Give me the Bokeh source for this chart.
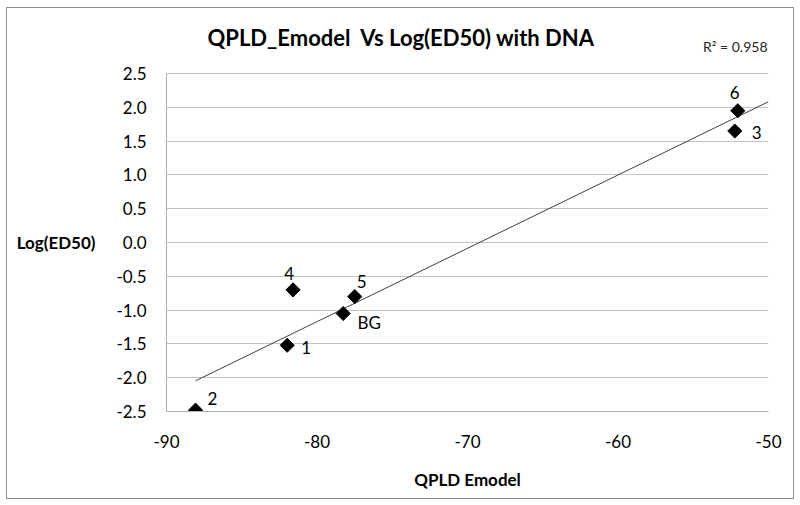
import numpy as np
from bokeh.plotting import figure
from bokeh.models import Label, FixedTicker, NumeralTickFormatter, Range1d, LinearAxis
from bokeh.core.properties import value
from bokeh.embed import file_html
from bokeh.resources import INLINE

# ---- data ----
compounds = ["1", "2", "3", "4", "5", "6", "BG"]
qpld_emodel = [-81.98, -88.07, -52.24, -81.59, -77.49, -52.04, -78.26]
log_ed50 = [-1.52, -2.48, 1.65, -0.70, -0.80, 1.95, -1.05]
x_ticks = [-90, -80, -70, -60, -50]
y_ticks = [-2.5, -2.0, -1.5, -1.0, -0.5, 0.0, 0.5, 1.0, 1.5, 2.0, 2.5]
r2_text = "R\u00b2 = 0.958"
title_text = "QPLD_Emodel\u00a0 Vs Log(ED50) with DNA"
x_title = "QPLD Emodel"
y_title = "Log(ED50)"

# label offsets (screen px) for the point labels
label_dx = [19, 17, 22, -4, 7, -3, 26]
label_dy = [2, -12, 1, -16, -15, -18, 9]

FONT = "Lato"
Y_TOP = 3.3  # frame extends above the plot area to host the title texts

p = figure(
    frame_width=602, frame_height=392,
    min_border_left=159, min_border_right=25,
    min_border_top=11, min_border_bottom=87,
    x_range=Range1d(x_ticks[0], x_ticks[-1]),
    y_range=Range1d(y_ticks[0], Y_TOP),
    output_backend="svg", toolbar_location=None,
    background_fill_color="white", border_fill_color="white",
)
p.outline_line_color = None
p.styles = {"border": "1px solid #8c8c8c", "margin-left": "6px", "margin-top": "7px"}

# grid
p.xgrid.grid_line_color = None
p.ygrid.grid_line_color = "#c4c4c4"
p.ygrid.ticker = FixedTicker(ticks=y_ticks)

# axes
for ax in (p.xaxis[0], p.yaxis[0]):
    ax.axis_line_color = "#b0b0b0"
    ax.major_tick_line_color = None
    ax.minor_tick_line_color = None
    ax.major_tick_out = 0
    ax.major_tick_in = 0
    ax.minor_tick_out = 0
    ax.major_label_text_font = FONT
    ax.major_label_text_font_size = "17px"
    ax.major_label_text_color = "black"

p.xaxis.ticker = FixedTicker(ticks=x_ticks)
p.xaxis.formatter = NumeralTickFormatter(format="0")
p.xaxis.bounds = (x_ticks[0], x_ticks[-1])
p.yaxis.ticker = FixedTicker(ticks=y_ticks)
p.yaxis.formatter = NumeralTickFormatter(format="0.0")
p.yaxis.bounds = (y_ticks[0], y_ticks[-1])
p.xaxis.major_label_standoff = 23
p.yaxis.major_label_standoff = 20

p.xaxis.axis_label = x_title
p.xaxis.axis_label_text_font = FONT
p.xaxis.axis_label_text_font_style = "bold"
p.xaxis.axis_label_text_font_size = "17px"
p.xaxis.axis_label_text_color = "black"
p.xaxis.axis_label_standoff = 18

# y title: a label-only axis whose single tick sits at 0.0, written horizontally
ytitle_axis = LinearAxis(
    ticker=FixedTicker(ticks=[0.0]),
    major_label_overrides={0: y_title},
    axis_line_color=None, major_tick_line_color=None, minor_tick_line_color=None,
    major_tick_out=0, major_tick_in=0, minor_tick_out=0,
    major_label_standoff=18,
    major_label_text_font=FONT, major_label_text_font_style="bold",
    major_label_text_font_size="17px", major_label_text_color="black",
)
p.add_layout(ytitle_axis, "left")

# trend line (linear regression of the data)
xs = np.array(qpld_emodel)
ys = np.array(log_ed50)
slope, intercept = np.polyfit(xs, ys, 1)
tx = np.array([xs.min(), x_ticks[-1]])
p.line(tx, slope * tx + intercept, line_color="#404040", line_width=1)

# points
p.scatter(qpld_emodel, log_ed50, marker="square", angle=np.pi / 4, size=10,
          fill_color="black", line_color="black")

# point labels
p.text(qpld_emodel, log_ed50, text=compounds, x_offset=label_dx, y_offset=label_dy,
       text_align="center", text_baseline="middle",
       text_font=value(FONT), text_font_size="17px", text_color="black")

# title and R² (inside the extended frame, above the plot area)
p.add_layout(Label(x=-74.39, y=3.034, text=title_text, text_align="center",
                   text_baseline="middle", text_font=FONT, text_font_style="bold",
                   text_font_size="22px", text_color="black"))
p.add_layout(Label(x=x_ticks[-1], y=2.901, x_offset=-1, text=r2_text, text_align="right",
                   text_baseline="middle", text_font=FONT,
                   text_font_size="14px", text_color="#262626"))

open("out.html", "w").write(file_html(p, INLINE))
